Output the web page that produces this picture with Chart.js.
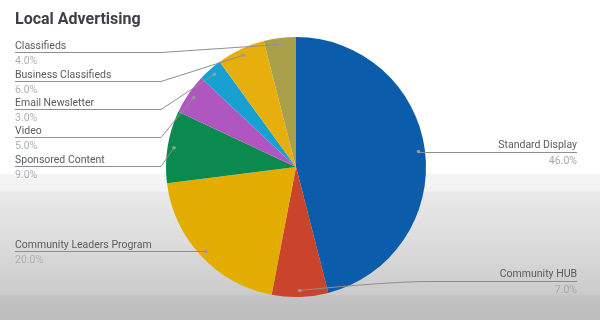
<!DOCTYPE html>
<html>
<head>
<meta charset="utf-8">
<script src="https://cdn.jsdelivr.net/npm/chart.js@4"></script>
<style>
  html, body { margin: 0; padding: 0; }
  body {
    width: 600px; height: 320px; overflow: hidden;
    background: linear-gradient(to bottom, #ffffff 0px, #ffffff 174px, #f5f5f5 174px, #f3f3f3 191px, #e9e9e9 192px, #dddddd 240px, #cbcbcb 294px, #c3c3c3 296px, #bcbcbc 320px);
  }
  canvas { display: block; }
</style>
</head>
<body>
<canvas id="c" width="600" height="320"></canvas>
<script>
// ---- data ----
const title = "Local Advertising";
const categories = ["Standard Display", "Community HUB", "Community Leaders Program", "Sponsored Content", "Video", "Email Newsletter", "Business Classifieds", "Classifieds"];
const values = [46, 7, 20, 9, 5, 3, 6, 4];
const percentLabels = ["46.0%", "7.0%", "20.0%", "9.0%", "5.0%", "3.0%", "6.0%", "4.0%"];

// ---- styles / layout ----
const colors = ["#0b5cab", "#c9442a", "#e3ad00", "#0b8a50", "#b056c1", "#18a0d3", "#e6af0e", "#aba04a"];
const labelSide = ["right", "right", "left", "left", "left", "left", "left", "left"];
const labelLineY = [152, 281, 251, 166, 137, 109, 81, 52];

const labelPlugin = {
  id: 'sideLabels',
  afterDraw(chart) {
    const ctx = chart.ctx;
    ctx.save();
    // title
    ctx.font = "bold 16px Roboto";
    ctx.fillStyle = "#3d4146";
    ctx.textAlign = "left";
    ctx.textBaseline = "alphabetic";
    ctx.fillText(title, 15, 24);

    const meta = chart.getDatasetMeta(0);
    meta.data.forEach((arc, i) => {
      const mid = (arc.startAngle + arc.endAngle) / 2;
      const r = arc.outerRadius * 0.95;
      const ax = arc.x + Math.cos(mid) * r;
      const ay = arc.y + Math.sin(mid) * r;
      const ly = labelLineY[i];
      const side = labelSide[i];
      ctx.font = "10.5px Roboto";
      ctx.strokeStyle = "#8e8e8e";
      ctx.lineWidth = 1;
      ctx.beginPath();
      if (side === "left") {
        const tx = 15;
        ctx.textAlign = "left";
        ctx.moveTo(tx, ly + 0.5);
        if (Math.abs(ay - ly) < 3) {
          ctx.lineTo(ax, ly + 0.5);
        } else {
          ctx.lineTo(161, ly + 0.5);
          ctx.lineTo(ax, ay);
        }
        ctx.stroke();
        ctx.fillStyle = "#595c60";
        ctx.fillText(categories[i], tx, ly - 3);
        ctx.fillStyle = "#adb0b3";
        ctx.fillText(percentLabels[i], tx, ly + 12);
      } else {
        const tx = 577;
        ctx.textAlign = "right";
        ctx.moveTo(tx, ly + 0.5);
        if (Math.abs(ay - ly) < 3) {
          ctx.lineTo(ax, ly + 0.5);
        } else {
          ctx.lineTo(430, ly + 0.5);
          ctx.quadraticCurveTo(390, ly + 0.5, ax, ay);
        }
        ctx.stroke();
        ctx.fillStyle = "#595c60";
        ctx.fillText(categories[i], tx, ly - 4);
        ctx.fillStyle = "#a4a7aa";
        ctx.fillText(percentLabels[i], tx, ly + 12);
      }
      ctx.fillStyle = "#9a9a9a";
      ctx.beginPath();
      ctx.arc(ax, ay, 1.8, 0, Math.PI * 2);
      ctx.fill();
    });
    ctx.restore();
  }
};

new Chart(document.getElementById('c'), {
  type: 'pie',
  data: {
    labels: categories,
    datasets: [{
      data: values,
      backgroundColor: colors,
      borderWidth: 0,
      radius: 130
    }]
  },
  options: {
    responsive: false,
    animation: false,
    layout: { padding: { left: 0, right: 8, top: 14, bottom: 0 } },
    plugins: {
      legend: { display: false },
      tooltip: { enabled: false },
      title: { display: false }
    }
  },
  plugins: [labelPlugin]
});
</script>
</body>
</html>
